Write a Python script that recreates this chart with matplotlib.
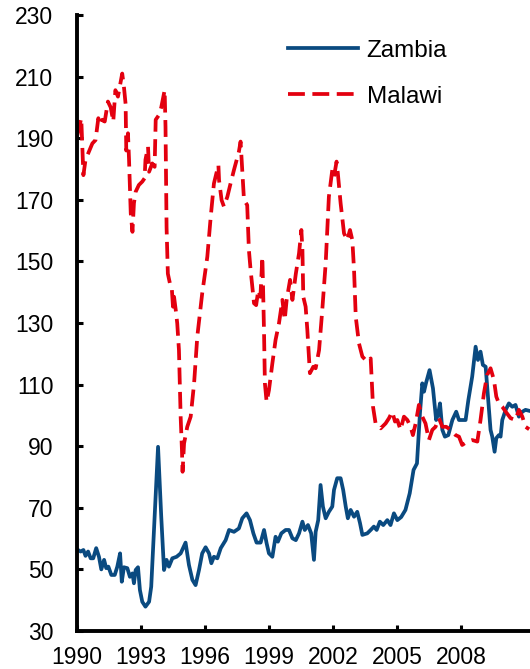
import matplotlib
matplotlib.use("Agg")
import matplotlib.pyplot as plt
import numpy as np

plt.rcParams['font.family'] = ['Liberation Sans', 'DejaVu Sans']

# Zambia (decimal year, index)
zambia_year = [
    1990.00, 1990.17, 1990.30, 1990.40, 1990.52, 1990.64, 1990.76, 1990.90,
    1991.03, 1991.14, 1991.27, 1991.37, 1991.47, 1991.61, 1991.77, 1991.89,
    1992.02, 1992.10, 1992.20, 1992.36, 1992.48, 1992.60, 1992.67, 1992.75,
    1992.86, 1992.95, 1993.06, 1993.21, 1993.38, 1993.48, 1993.61, 1993.80,
    1993.95, 1994.08, 1994.20, 1994.31, 1994.47, 1994.67, 1994.86, 1995.09,
    1995.25, 1995.41, 1995.56, 1995.72, 1995.87, 1996.03, 1996.19, 1996.30,
    1996.42, 1996.58, 1996.74, 1996.97, 1997.13, 1997.36, 1997.59, 1997.75,
    1997.95, 1998.11, 1998.27, 1998.42, 1998.61, 1998.77, 1998.89, 1999.00,
    1999.16, 1999.31, 1999.42, 1999.58, 1999.78, 1999.94, 2000.10, 2000.26,
    2000.41, 2000.57, 2000.68, 2000.83, 2000.98, 2001.11, 2001.19, 2001.31,
    2001.42, 2001.53, 2001.66, 2001.81, 2001.97, 2002.05, 2002.20, 2002.36,
    2002.48, 2002.60, 2002.70, 2002.83, 2002.99, 2003.14, 2003.27, 2003.38,
    2003.61, 2003.77, 2003.92, 2004.05, 2004.20, 2004.36, 2004.55, 2004.70,
    2004.86, 2005.02, 2005.20, 2005.40, 2005.60, 2005.78, 2005.94, 2006.08,
    2006.19, 2006.27, 2006.36, 2006.53, 2006.69, 2006.84, 2006.94, 2007.02,
    2007.13, 2007.25, 2007.41, 2007.60, 2007.78, 2007.91, 2008.10, 2008.22,
    2008.35, 2008.53, 2008.69, 2008.80, 2008.92, 2009.03, 2009.16, 2009.28,
    2009.39, 2009.47, 2009.58, 2009.66, 2009.78, 2009.86, 2009.94, 2010.10,
    2010.25, 2010.41, 2010.56, 2010.72, 2010.88, 2011.03, 2011.20,
]
zambia = [
    56.5, 55.8, 56.3, 54.4, 55.8, 53.6, 53.6, 56.9,
    54.1, 50.0, 53.1, 50.4, 50.9, 48.2, 48.2, 50.9,
    55.2, 46.0, 50.7, 50.4, 47.6, 48.7, 45.5, 49.8,
    50.7, 43.3, 39.5, 37.9, 39.5, 44.4, 62.8, 89.8,
    67.1, 49.8, 53.1, 50.9, 53.6, 54.1, 55.2, 58.7,
    51.4, 46.6, 44.9, 49.8, 55.2, 57.2, 55.2, 52.0,
    54.1, 53.6, 56.9, 59.5, 62.8, 62.2, 63.3, 66.6,
    68.2, 66.0, 61.7, 58.7, 58.7, 62.8, 58.5, 55.2,
    54.1, 60.6, 59.0, 61.7, 62.8, 62.8, 60.1, 59.5,
    61.7, 65.5, 62.8, 64.4, 61.7, 53.1, 62.2, 66.0,
    77.4, 70.4, 66.6, 68.7, 70.4, 75.8, 79.6, 79.6,
    75.8, 70.4, 66.6, 69.3, 67.1, 68.7, 65.0, 61.2,
    61.7, 62.8, 63.9, 62.8, 65.5, 64.4, 66.0, 64.4,
    68.2, 66.0, 67.0, 69.3, 74.7, 82.3, 84.4, 100.7,
    110.4, 107.7, 110.4, 114.7, 108.8, 98.5, 100.7, 103.9,
    95.3, 93.1, 93.6, 98.5, 101.2, 98.5, 98.5, 98.5,
    105.0, 112.6, 122.3, 118.0, 120.7, 116.4, 115.8, 105.0,
    95.3, 93.1, 88.2, 92.6, 93.6, 93.1, 98.5, 101.8,
    103.9, 102.8, 103.4, 99.6, 101.2, 101.8, 101.5,
]

# Malawi
malawi_year = [
    1990.00, 1990.20, 1990.30, 1990.40, 1990.72, 1990.87, 1991.00, 1991.10,
    1991.19, 1991.30, 1991.45, 1991.58, 1991.70, 1991.80, 1991.92, 1992.12,
    1992.20, 1992.28, 1992.31, 1992.39, 1992.44, 1992.52, 1992.60, 1992.67,
    1992.75, 1992.90, 1993.06, 1993.17, 1993.21, 1993.33, 1993.38, 1993.53,
    1993.64, 1993.69, 1993.84, 1993.95, 1994.11, 1994.15, 1994.20, 1994.26,
    1994.39, 1994.45, 1994.50, 1994.55, 1994.63, 1994.70, 1994.78, 1994.86,
    1994.92, 1994.95, 1995.02, 1995.17, 1995.33, 1995.49, 1995.64, 1995.87,
    1996.11, 1996.27, 1996.42, 1996.63, 1996.66, 1996.78, 1996.89, 1997.05,
    1997.20, 1997.36, 1997.59, 1997.67, 1997.75, 1997.83, 1997.98, 1998.06,
    1998.14, 1998.30, 1998.40, 1998.50, 1998.60, 1998.69, 1998.72, 1998.77,
    1998.81, 1998.89, 1999.00, 1999.16, 1999.31, 1999.47, 1999.63, 1999.74,
    1999.83, 1999.99, 2000.10, 2000.26, 2000.41, 2000.52, 2000.57, 2000.61,
    2000.72, 2000.80, 2000.92, 2001.08, 2001.19, 2001.35, 2001.50, 2001.66,
    2001.81, 2001.97, 2002.05, 2002.17, 2002.23, 2002.36, 2002.52, 2002.67,
    2002.80, 2002.91, 2002.99, 2003.07, 2003.22, 2003.38, 2003.61, 2003.77,
    2003.81, 2003.88, 2004.00, 2004.24, 2004.47, 2004.63, 2004.78, 2004.91,
    2005.02, 2005.17, 2005.33, 2005.49, 2005.64, 2005.75, 2005.88, 2006.03,
    2006.19, 2006.34, 2006.50, 2006.66, 2006.81, 2006.97, 2007.13, 2007.31,
    2007.52, 2007.75, 2007.91, 2008.06, 2008.30, 2008.53, 2008.77, 2008.92,
    2009.08, 2009.23, 2009.39, 2009.55, 2009.66, 2009.78, 2009.94, 2010.10,
    2010.33, 2010.56, 2010.72, 2010.88, 2011.03, 2011.20,
]
malawi = [
    190.5, 196.5, 178.0, 183.0, 188.3, 189.4, 196.5, 194.3,
    196.0, 195.4, 201.9, 200.0, 195.4, 205.6, 203.5, 211.0,
    206.7, 201.0, 186.0, 191.6, 183.0, 165.6, 159.6, 168.9,
    172.6, 174.8, 175.9, 177.0, 183.0, 187.2, 179.1, 181.8,
    180.7, 196.0, 197.5, 200.0, 205.6, 193.7, 161.0, 146.0,
    141.8, 140.7, 135.3, 138.5, 134.2, 129.9, 121.2, 99.6,
    88.8, 81.7, 90.9, 96.3, 99.6, 110.4, 125.6, 139.6,
    151.5, 164.5, 175.3, 181.3, 176.4, 169.9, 167.8, 171.0,
    175.3, 179.7, 185.6, 188.9, 179.7, 169.9, 168.3, 153.7,
    147.2, 136.4, 135.8, 140.7, 138.5, 151.5, 142.9, 126.7,
    110.4, 104.4, 108.2, 116.9, 124.5, 129.9, 137.5, 131.0,
    137.5, 144.0, 137.5, 146.0, 152.6, 160.2, 153.7, 138.5,
    135.3, 127.7, 113.7, 115.8, 115.3, 121.2, 134.2, 149.4,
    171.0, 179.7, 177.5, 182.4, 178.6, 168.9, 159.1, 156.9,
    160.2, 156.9, 147.2, 132.0, 123.4, 119.1, 117.4, 118.5,
    112.6, 102.8, 97.4, 95.8, 97.4, 99.1, 101.2, 98.0,
    98.5, 95.3, 99.6, 98.5, 96.3, 93.6, 97.4, 103.4,
    99.6, 97.4, 92.0, 95.3, 96.3, 99.1, 96.3, 96.3,
    95.3, 93.6, 93.1, 90.4, 91.5, 92.0, 91.5, 98.5,
    107.2, 113.1, 115.3, 111.5, 106.1, 103.9, 102.8, 101.2,
    99.1, 98.5, 101.8, 99.6, 96.3, 95.5,
]

x_ticks = [1990, 1993, 1996, 1999, 2002, 2005, 2008]
y_ticks = [30, 50, 70, 90, 110, 130, 150, 170, 190, 210, 230]

BLUE = '#0A4A80'
RED = '#E3000F'

fig = plt.figure(figsize=(5.30, 6.69), dpi=100)
ax = fig.add_axes([77/530., 1 - 631/669., 1 - 77/530., (631 - 15)/669.])

ax.plot(zambia_year, zambia, color=BLUE, lw=2.7, label='Zambia',
        solid_joinstyle='round')
ax.plot(malawi_year, malawi, color=RED, lw=2.7, label='Malawi',
        dashes=(4.5, 2.0))

ax.set_xlim(1990, 2011.24)
ax.set_ylim(30, 230)
ax.set_xticks(x_ticks)
ax.set_yticks(y_ticks)
ax.set_xticklabels([str(i) for i in x_ticks])

for s in ['top', 'right']:
    ax.spines[s].set_visible(False)
for s in ['left', 'bottom']:
    ax.spines[s].set_linewidth(2.8)
    ax.spines[s].set_color('black')

ax.tick_params(axis='both', direction='in', length=4.5, width=2.2,
               labelsize=16.5, colors='black')
ax.tick_params(axis='y', pad=17)
ax.tick_params(axis='x', pad=11)

leg = ax.legend(loc='upper left', bbox_to_anchor=(0.465, 0.96),
                frameon=False, fontsize=17.5, handlelength=2.9,
                handletextpad=0.35, labelspacing=1.0, borderpad=0,
                borderaxespad=0)

fig.savefig('out.png', dpi=100)
